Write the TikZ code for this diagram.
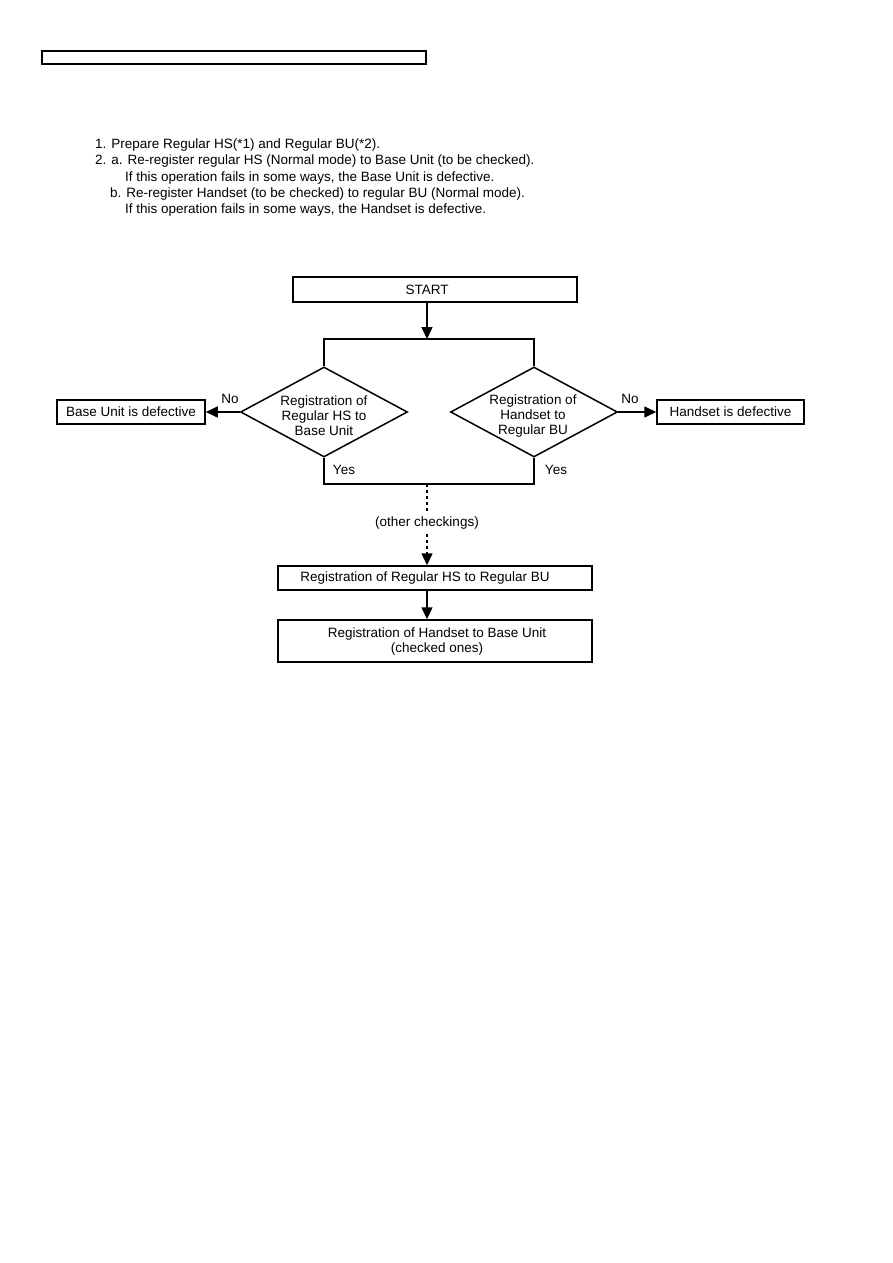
\documentclass[tikz,border=0pt]{standalone}
\usepackage{fontspec}
\setmainfont{Liberation Sans}
\usetikzlibrary{arrows.meta,shapes.geometric}
\begin{document}
\begin{tikzpicture}[x=1pt,y=-1pt,
  every node/.style={font=\fontsize{13.5}{15}\selectfont, inner sep=0pt},
  ln/.style={line width=1.5pt},
  boxn/.style={draw, line width=1.5pt, rectangle},
  dia/.style={draw, line width=1.5pt, diamond, minimum width=167pt, minimum height=90pt},
  arr/.style={line width=1.5pt, -{Triangle[length=12pt,width=11pt]}},
  dotarr/.style={line width=1.5pt, dash pattern=on 3pt off 3pt, -{Triangle[length=12pt,width=11pt]}},
  txt/.style={anchor=base west},
  ctr/.style={align=center}]
\useasboundingbox (0,0) rectangle (893,1263);
% header box
\node[boxn, minimum width=384pt, minimum height=13pt] (hdr) at (234,57.5) {};
% intro text
\node[txt] (t1) at (95,148) {1. Prepare Regular HS(*1) and Regular BU(*2).};
\node[txt] (t2) at (95,164.5) {2. a. Re-register regular HS (Normal mode) to Base Unit (to be checked).};
\node[txt] (t3) at (125,181) {If this operation fails in some ways, the Base Unit is defective.};
\node[txt] (t4) at (110,197) {b. Re-register Handset (to be checked) to regular BU (Normal mode).};
\node[txt] (t5) at (125,213.5) {If this operation fails in some ways, the Handset is defective.};
% start
\node[boxn, minimum width=284pt, minimum height=25pt] (start) at (435,289.5) {};
\node (starttxt) at (427,289.5) {START};
\coordinate (jt) at (427,339);
\coordinate (jl) at (324,339);
\coordinate (jr) at (534,339);
\coordinate (jb) at (427,484);
\coordinate (bl) at (324,484);
\coordinate (br) at (534,484);
% diamonds
\node[dia] (dl) at (324,412) {};
\node[ctr] (dltxt) at (324,416) {Registration of\\Regular HS to\\Base Unit};
\node[dia] (dr) at (534,412) {};
\node[ctr] (drtxt) at (533,416) {Registration of\\Handset to\\Regular BU};
% side boxes
\node[boxn, minimum width=148pt, minimum height=24pt] (bud) at (131,412) {Base Unit is defective};
\node[boxn, minimum width=147pt, minimum height=24pt] (hsd) at (730.5,412) {Handset is defective};
% labels
\node (nol) at (230,399) {No};
\node (nor) at (630,399) {No};
\node (yesl) at (344,470) {Yes};
\node (yesr) at (556,470) {Yes};
% lower
\node[inner sep=5pt] (oc) at (427,523) {(other checkings)};
\node[boxn, minimum width=314pt, minimum height=24pt] (reg) at (435,578) {};
\node (regtxt) at (425,578) {Registration of Regular HS to Regular BU};
\node[boxn, minimum width=314pt, minimum height=42pt] (fin) at (435,641) {};
\node[ctr] (fintxt) at (437,641) {Registration of Handset to Base Unit\\(checked ones)};
% connectors
\draw[arr] (start.south -| jt) -- (jt);
\draw[ln] (dl.north) -- (jl) -- (jr) -- (dr.north);
\draw[ln] (dl.south) -- (bl) -- (br) -- (dr.south);
\draw[arr] (dl.west) -- (bud.east);
\draw[arr] (dr.east) -- (hsd.west);
\draw[ln, dash pattern=on 3pt off 3pt] (jb) -- (oc.north -| jt);
\draw[dotarr] (oc.south -| jt) -- (reg.north -| jt);
\draw[arr] (reg.south -| jt) -- (fin.north -| jt);
\end{tikzpicture}
\end{document}
